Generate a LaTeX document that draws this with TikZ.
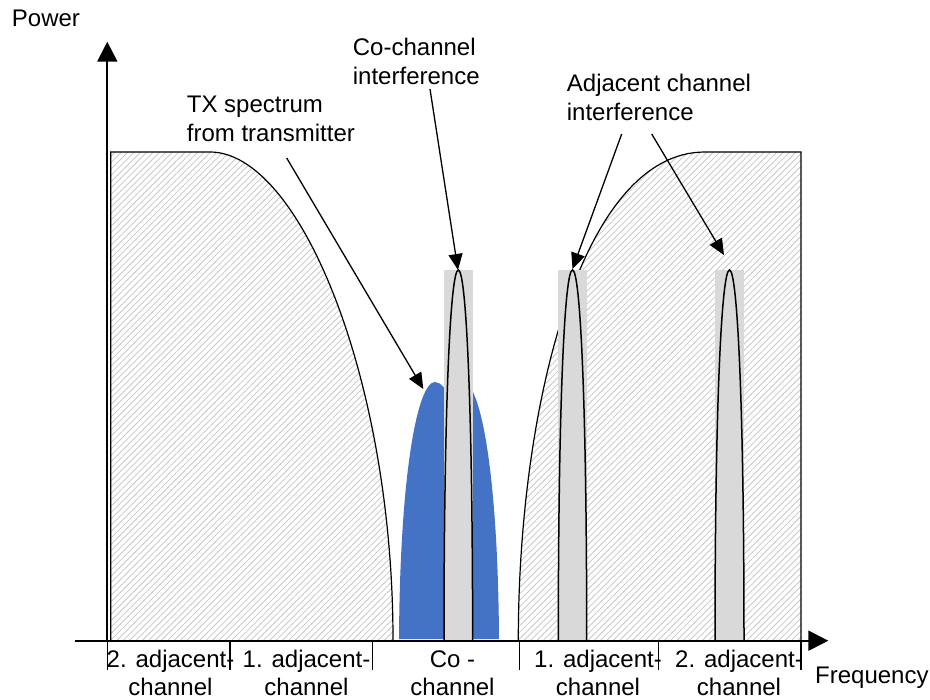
\documentclass[tikz,border=0pt]{standalone}
\usepackage{fontspec}
\setmainfont{Liberation Sans}
\usetikzlibrary{arrows.meta,patterns.meta}
\definecolor{hatchgray}{RGB}{200,200,200}
\definecolor{bargray}{RGB}{217,217,217}
\definecolor{txblue}{RGB}{68,114,196}
\begin{document}
\begin{tikzpicture}[x=1pt,y=-1pt,
  lbl/.style={font=\fontsize{24}{29}\selectfont, inner sep=0pt, align=left, anchor=base west},
  chlbl/.style={font=\fontsize{24}{28}\selectfont, inner sep=0pt, align=center, anchor=base},
  hatchreg/.style={pattern={Lines[angle=45,distance=4.5pt,line width=0.8pt]}, pattern color=hatchgray, draw=black, line width=1.2pt},
  spikeline/.style={draw=black, line width=1.5pt},
  gbar/.style={fill=bargray, draw=none},
  ptr/.style={draw=black, line width=1.3pt, -{Triangle[length=16pt,width=14pt]}},
  axisline/.style={draw=black, line width=2pt, -{Triangle[length=20pt,width=20pt]}},
  chtick/.style={draw=black, line width=1.2pt}]
\useasboundingbox (0,0) rectangle (930,700);
\fill[white] (0,0) rectangle (930,700);
% hatched regions
\path[hatchreg] (110.7,640) -- (110.7,152) -- (210,152) .. controls (300,152) and (393,380) .. (393,640);
\path[hatchreg] (518.3,640) .. controls (518.3,410) and (580,152) .. (705,152) -- (801,152) -- (801,640);
% blue TX spectrum
\fill[txblue] (399,639) .. controls (400,470) and (418,382) .. (435,382) .. controls (442,382) and (446,392) .. (449,392) .. controls (452,392) and (456,382) .. (463,382) .. controls (480,382) and (498,470) .. (499,639) -- cycle;
% gray bars
\path[gbar] (444,270) rectangle (472.7,640);
\path[gbar] (558.3,270) rectangle (586.7,640);
\path[gbar] (715,270) rectangle (744,640);
% spikes
\foreach \c/\w in {458.3/14.3, 572.5/14.2, 729.5/14.5}{
  \draw[spikeline] (\c-\w,640) .. controls (\c-\w,400) and (\c-7.7,270) .. (\c,270) .. controls (\c+7.7,270) and (\c+\w,400) .. (\c+\w,640);
}
% axes
\coordinate (yb) at (107.3,641);
\coordinate (yt) at (107.3,41.7);
\coordinate (xl) at (75,640.7);
\coordinate (xr) at (828.3,640.7);
\draw[axisline] (yb) -- (yt);
\draw[axisline] (xl) -- (xr);
% ticks
\foreach \x in {107.3,230,372.7,519.3,658.3,801}{
  \draw[chtick] (\x,641) -- (\x,670);
}
% labels (multi-line nodes: base = last line)
\node[lbl] (power) at (11.7,26.7) {Power};
\node[lbl] (txlbl) at (186.7,142) {TX spectrum\\from transmitter};
\node[lbl] (colbl) at (352.7,85) {Co-channel\\interference};
\node[lbl] (adjlbl) at (566.7,120.5) {Adjacent channel\\interference};
\node[lbl] (freq) at (815,683) {Frequency};
\node[chlbl] (ch1) at (170.5,695) {2. adjacent-\\channel};
\node[chlbl] (ch2) at (306.5,695) {1. adjacent-\\channel};
\node[chlbl] (ch3) at (452.5,695) {Co -\\channel};
\node[chlbl] (ch4) at (598,695) {1. adjacent-\\channel};
\node[chlbl] (ch5) at (739,695) {2. adjacent-\\channel};
% pointer arrows
\coordinate (txs) at (286.7,158);
\coordinate (txe) at (423.3,389);
\coordinate (cos) at (430,89);
\coordinate (coe) at (458,270);
\coordinate (a1s) at (621.7,134);
\coordinate (a1e) at (572.5,269);
\coordinate (a2s) at (651.7,134);
\coordinate (a2e) at (724,255);
\draw[ptr] (txs) -- (txe);
\draw[ptr] (cos) -- (coe);
\draw[ptr] (a1s) -- (a1e);
\draw[ptr] (a2s) -- (a2e);
\end{tikzpicture}
\end{document}
